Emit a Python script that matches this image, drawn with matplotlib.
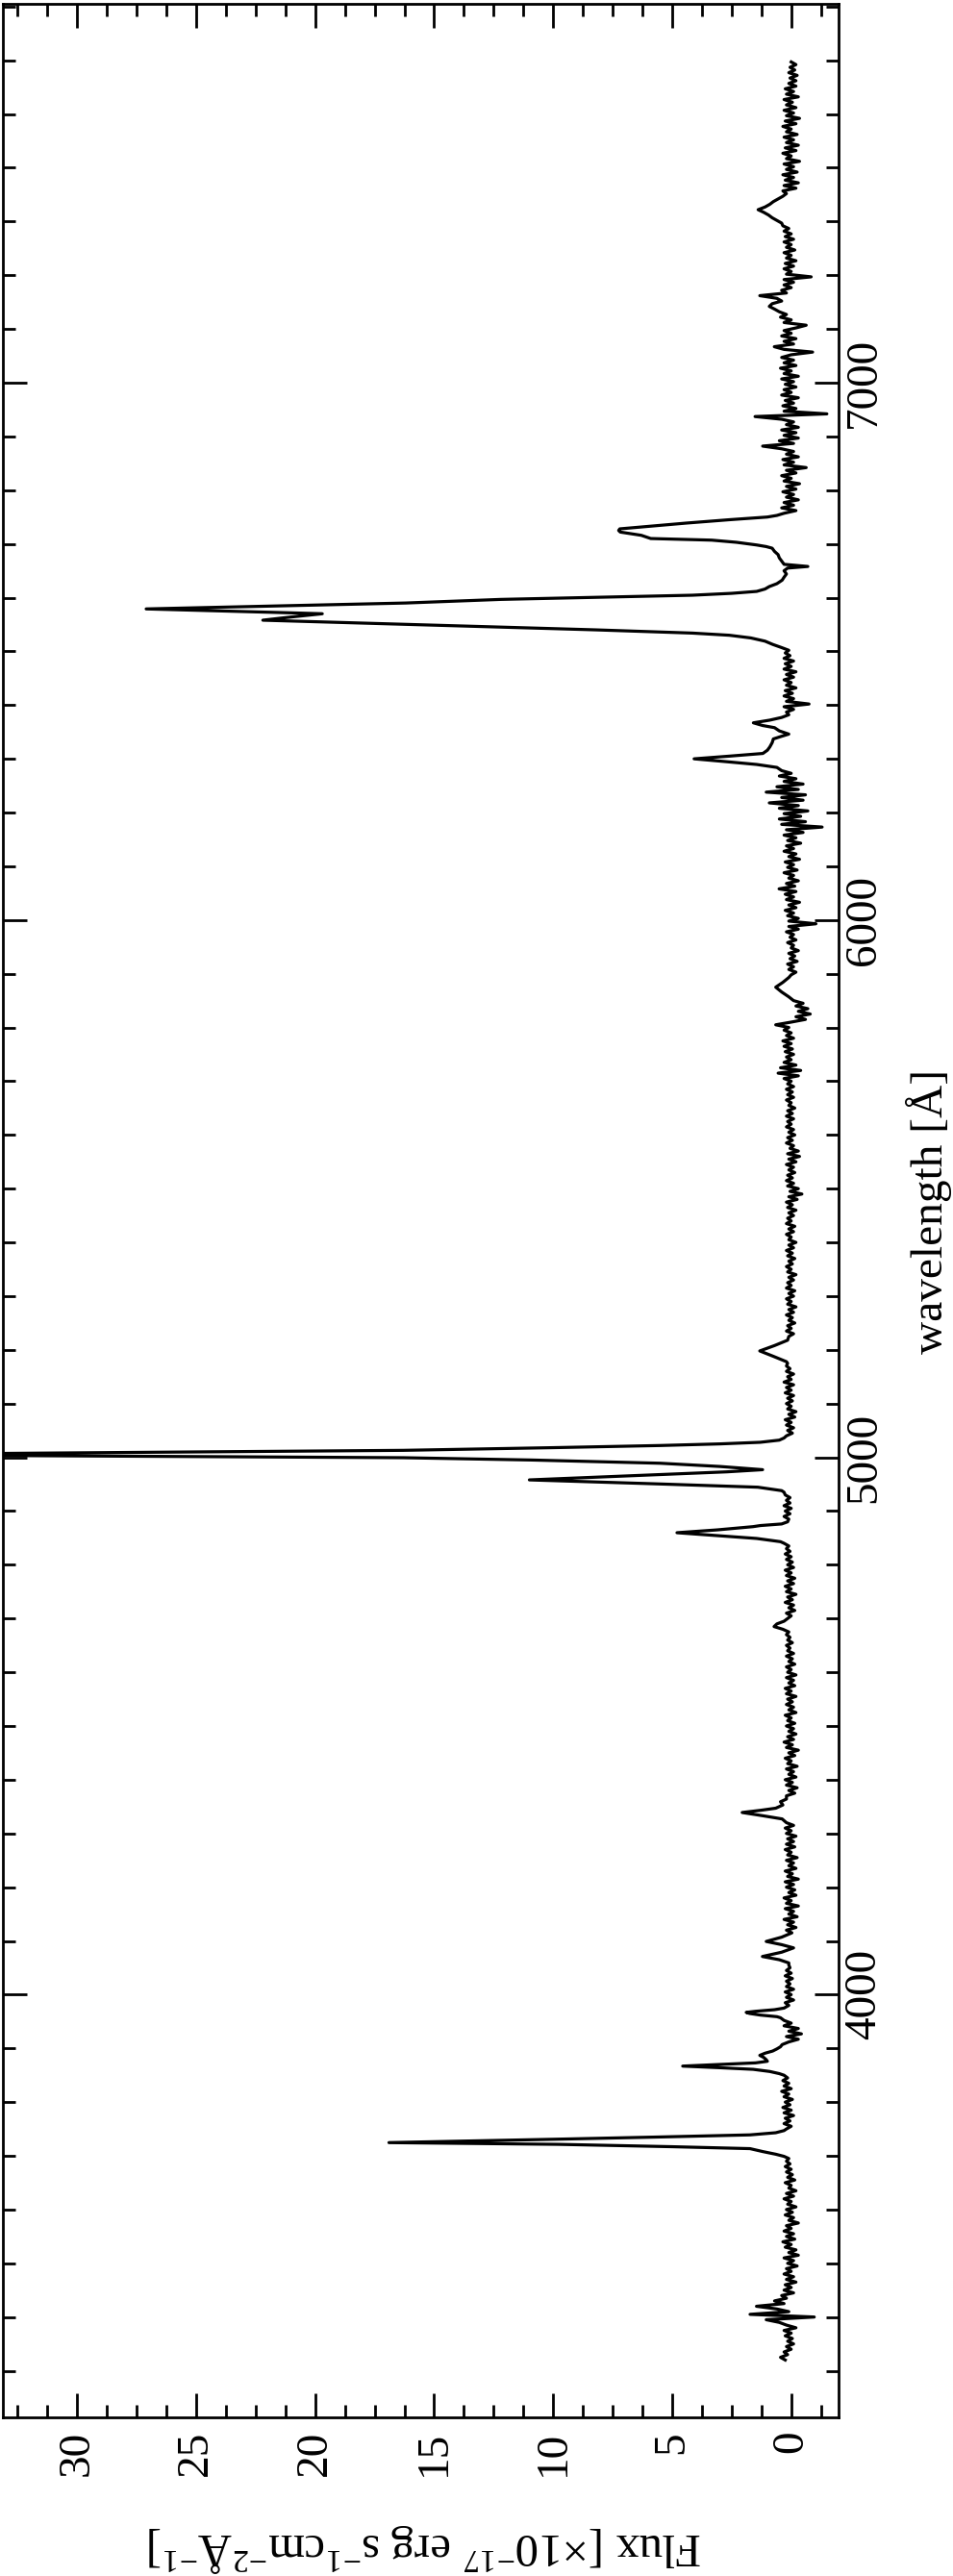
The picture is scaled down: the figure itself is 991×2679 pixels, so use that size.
import numpy as np
import matplotlib
matplotlib.use("Agg")
import matplotlib.pyplot as plt
from matplotlib.ticker import MultipleLocator

plt.rcParams['font.family'] = ['Liberation Serif', 'DejaVu Serif']
plt.rcParams['mathtext.fontset'] = 'custom'
plt.rcParams['mathtext.rm'] = 'Liberation Serif'
plt.rcParams['mathtext.it'] = 'Liberation Serif:italic'

# ---------------- data (wavelength in Angstrom, flux in 1e-17 cgs) ----------------
# noise/continuum segments: start wavelength, step, flux values
cont_a_start, cont_a_step = 3320, 5
cont_a = [0.25, 0.45, 0.15, 0.3, 0.0, 0.2, -0.1, 0.15, -0.05, 0.25, 0.0, 0.3, -0.2, 0.2, 0.5,
          1.05, -0.97, 1.73, 0.1, 0.6, 1.46, 0.3, 0.7, 0.2, 0.4, -0.1, 0.3, 0.0, 0.25, -0.2,
          0.2, -0.1, 0.3, 0.0, 0.2, -0.25, 0.15, -0.1, 0.3, -0.3, 0.1, -0.2, 0.25, 0.0, 0.35,
          -0.15, 0.2, -0.1, 0.3, 0.0, 0.2, -0.3, 0.1, -0.1, 0.25, -0.05, 0.2, -0.2, 0.15, 0.0,
          0.3, -0.1, 0.2, -0.2, 0.1, 0.0, 0.25, -0.15, 0.15, -0.05, 0.2, 0.0, 0.25, 0.05, 0.2, 0.1]

oii_wave = [3699, 3703, 3708, 3713.4, 3717, 3721.4, 3724.6, 3728, 3731, 3735, 3739, 3743, 3747]
oii_flux = [0.3, 0.65, 1.2, 1.73, 5.0, 9.8, 16.9, 13.1, 9.8, 5.6, 1.73, 0.65, 0.3]

cont_b_start, cont_b_step = 3750, 5
cont_b = [0.2, 0.0, 0.3, 0.05, 0.25, -0.1, 0.3, 0.0, 0.35, 0.05, 0.25, -0.05, 0.3, 0.1, 0.4,
          0.0, 0.3, 0.1, 0.35, 0.15, 0.3]

ne3_wave = [3853, 3857, 3861, 3864, 3867, 3870, 3873, 3876, 3879, 3883, 3887, 3891, 3895, 3899, 3903]
ne3_flux = [0.5, 0.9, 1.6, 3.0, 4.56, 3.0, 1.5, 1.0, 1.05, 1.15, 1.32, 1.1, 0.78, 0.6, 0.45]

cont_c_start, cont_c_step = 3907, 5
cont_c = [0.38, 0.1, -0.3, 0.2, -0.43, 0.1, -0.3, 0.3, 0.0, 0.3, 0.45]

heps_wave = [3959, 3962, 3965, 3967, 3969, 3972, 3975]
heps_flux = [0.6, 1.3, 1.75, 1.89, 1.5, 0.7, 0.3]

cont_d_start, cont_d_step = 3980, 5
cont_d = [0.1, 0.25, -0.1, 0.2, 0.0, 0.25, -0.1, 0.2, 0.05, 0.2, -0.05, 0.25, 0.0, 0.2, 0.05, 0.1]

hdel_wave = [4059, 4065, 4071, 4079, 4087, 4093, 4099, 4107, 4115]
hdel_flux = [0.1, 0.5, 1.21, 0.4, -0.1, 0.4, 1.05, 0.4, -0.03]

cont_e_start, cont_e_step = 4120, 5
cont_e = [0.2, -0.2, 0.15, -0.1, 0.3, -0.25, 0.1, -0.1, 0.25, -0.3, 0.2, 0.0, 0.3, -0.2, 0.1,
          -0.15, 0.2, -0.1, 0.25, -0.3, 0.15, -0.05, 0.25, -0.2, 0.1, -0.1, 0.2, -0.25, 0.15,
          0.0, 0.25, -0.15, 0.2, -0.1, 0.15, -0.2, 0.2, 0.0, 0.25, -0.1, 0.2]

hgam_wave = [4327, 4333, 4339, 4343, 4347, 4353, 4359, 4364]
hgam_flux = [0.38, 1.2, 2.06, 1.3, 0.65, 0.35, 0.45, 0.2]

cont_f_start, cont_f_step = 4370, 5
cont_f = [0.2, -0.15, 0.1, -0.25, 0.2, -0.05, 0.25, -0.2, 0.1, -0.1, 0.2, -0.25, 0.15, 0.0,
          0.25, -0.15, 0.1, -0.3, 0.2, -0.05, 0.3, -0.1, 0.15, -0.2, 0.1, -0.1, 0.2, -0.15,
          0.15, 0.0, 0.25, -0.2, 0.1, -0.1, 0.2, -0.05, 0.15, -0.2, 0.2, 0.0, 0.25, -0.15, 0.1,
          -0.1, 0.2, -0.2, 0.15, 0.0, 0.2, -0.15, 0.1, -0.05, 0.2, -0.1, 0.15, 0.05, 0.2, -0.05,
          0.15, 0.05, 0.2, 0.1]

heii_wave = [4680, 4685, 4690, 4695, 4700]
heii_flux = [0.35, 0.72, 0.6, 0.3, 0.15]

cont_g_start, cont_g_step = 4705, 5
cont_g = [0.0, 0.2, -0.15, 0.1, -0.1, 0.25, -0.05, 0.15, -0.2, 0.2, 0.0, 0.25, -0.1, 0.15,
          -0.15, 0.2, 0.0, 0.25, -0.1, 0.15, -0.05, 0.2, 0.0, 0.25, 0.05, 0.2, 0.1, 0.3]

oiii_hb_wave = [4843, 4849, 4854, 4859.7, 4865, 4871, 4873, 4876, 4880,
                4885, 4890, 4895, 4900, 4905, 4910, 4915, 4920, 4925, 4930, 4935,
                4938, 4944.4, 4950.4, 4958, 4968, 4973, 4977,
                4983, 4989, 4995, 4999.3, 5005, 5013, 5018, 5022, 5025, 5028, 5032, 5036]
oiii_hb_flux = [0.45, 1.45, 3.0, 4.8, 3.1, 1.6, 1.3, 0.4, 0.15,
                0.1, 0.3, 0.05, 0.25, 0.0, 0.3, 0.05, 0.2, 0.05, 0.25, 0.3,
                0.4, 1.4, 5.5, 11.0, 5.5, 2.7, 1.2,
                3.0, 5.5, 10.9, 16.3, 40.0, 16.3, 10.0, 5.5, 3.0, 1.3, 0.5, 0.3]

cont_i_start, cont_i_step = 5040, 5
cont_i = [0.2, -0.05, 0.15, -0.1, 0.2, 0.0, 0.25, -0.15, 0.1, -0.2, 0.15, 0.0, 0.2, -0.05,
          0.15, -0.1, 0.25, 0.0, 0.2, -0.1, 0.3, 0.0, 0.15, -0.1, 0.2, 0.05, 0.2, 0.15]

ni_wave = [5178, 5188, 5198, 5208, 5218]
ni_flux = [0.2, 0.75, 1.32, 0.7, 0.15]

cont_j_start, cont_j_step = 5225, 5
cont_j = [0.1, -0.1, 0.2, 0.0, 0.15, -0.15, 0.1, -0.05, 0.2, -0.1, 0.1, -0.2, 0.15, 0.0, 0.2,
          -0.1, 0.1, -0.15, 0.2, 0.0, 0.15, -0.1, 0.1, -0.2, 0.15, 0.0, 0.2, -0.05, 0.1, -0.15,
          0.15, -0.05, 0.2, -0.1, 0.1, -0.2, 0.1, 0.0, 0.2, -0.1, 0.1, -0.15, 0.2, 0.0, 0.15,
          -0.1, 0.1, -0.2, 0.15, -0.05, 0.2, -0.25, 0.1, -0.45, 0.05, -0.3, 0.15, -0.1, 0.2,
          -0.05, 0.15, -0.15, 0.1, -0.1, 0.2, -0.2, 0.1, -0.35, 0.15, -0.3, 0.05, -0.1, 0.2,
          -0.05, 0.15, -0.15, 0.1, -0.1, 0.2, 0.0, 0.15, -0.1, 0.2, -0.05, 0.15, -0.15, 0.1,
          0.0, 0.2, -0.1, 0.15, -0.05, 0.2, -0.1, 0.15, 0.0, 0.3, -0.3, 0.55, -0.4, 0.45, -0.2,
          0.3, 0.0, 0.2, -0.1, 0.25, -0.05, 0.3, 0.0, 0.35, -0.1, 0.2, 0.0, 0.3, 0.1, 0.65, 0.0,
          -0.6, -0.2, -0.8, -0.3, -0.7, -0.2, -0.5, -0.1]

hei_wave = [5857, 5866, 5875, 5884, 5893]
hei_flux = [0.1, 0.4, 0.65, 0.35, 0.1]

cont_k_start, cont_k_step = 5898, 5
cont_k = [0.0, -0.2, 0.1, -0.1, 0.15, -0.25, 0.05, -0.15, 0.1, -0.3, 0.0, -0.1, 0.15, -0.2,
          0.05, -0.1, 0.2, -0.3, 0.1, -1.04, 0.1, -0.3, 0.15, -0.1, 0.25, -0.2, 0.1, -0.35, 0.2,
          -0.1, 0.25, -0.2, 0.51, -0.15, 0.2, -0.3, 0.1, -0.1, 0.3, -0.25, 0.15, -0.1, 0.25,
          -0.35, 0.1, -0.2, 0.3, -0.1, 0.2, -0.4, 0.15, -0.2, 0.3, -0.5, 0.2, -1.3, 0.4, -0.6,
          0.5, -0.4, 0.3, -0.7, 0.5, -0.3, 0.92, -0.5, 0.4, -0.6, 1.05, -0.3, 0.6, -0.5, 0.3,
          -0.2, 0.5, 0.0, 0.4]

oi_wave = [6284, 6289.5, 6295, 6300, 6305, 6310, 6316, 6322, 6330, 6337, 6342, 6346, 6352,
           6358, 6362, 6367, 6372, 6377, 6382]
oi_flux = [0.6, 1.45, 2.8, 4.08, 2.6, 1.19, 1.0, 0.9, 0.8, 0.75, 0.4, 0.1, 0.5, 0.7, 1.2,
           1.59, 0.9, 0.4, 0.1]

cont_m_start, cont_m_step = 6387, 5
cont_m = [0.2, -0.1, 0.3, -0.75, 0.2, -0.1, 0.3, -0.05, 0.25, -0.2, 0.2, 0.0, 0.3, -0.1,
          0.2, -0.2, 0.3, 0.0, 0.25, -0.1, 0.3, 0.05, 0.25, 0.1]

ha_wave = [6507, 6513, 6519, 6525, 6530, 6534, 6540, 6546, 6552, 6558, 6564, 6570, 6571.8,
           6579, 6584, 6590, 6596.7, 6600.5, 6604.5, 6608, 6611.6, 6616, 6620.6, 6626, 6632.5,
           6638, 6644, 6650, 6655, 6658, 6662, 6668, 6674, 6680, 6686, 6692,
           6695, 6698, 6703, 6707, 6710, 6716, 6722, 6725, 6728, 6735, 6738.7, 6745, 6750, 6753]
ha_flux = [0.4, 0.78, 1.1, 1.7, 2.6, 4.15, 8.2, 12.9, 17.5, 22.2, 21.0, 19.7, 21.1,
           27.1, 22.1, 16.2, 12.2, 8.2, 4.15, 2.5, 1.45, 1.1, 0.92, 0.6, 0.38,
           0.3, 0.2, 0.3, 0.15, -0.7, 0.3, 0.4, 0.5, 0.55, 0.7, 0.8,
           1.05, 1.45, 2.3, 3.34, 5.9, 6.3, 7.18, 7.25, 7.2, 5.36, 4.42, 2.6, 1.0, 0.6]

cont_n_start, cont_n_step = 6757, 5
cont_n = [0.3, -0.2, 0.4, -0.1, 0.3, -0.3, 0.2, -0.1, 0.35, -0.2, 0.2, -0.35, 0.3, 0.0, 0.4,
          -0.2, 0.2, -0.63, 0.3, -0.1, 0.35, -0.3, 0.2, -0.1, 0.4, 1.2, -0.1, 0.5, -0.3, 0.3,
          -0.2, 0.4, -0.3, 0.2, -0.1, 0.4, 1.52, -1.5, 0.3]

cont_o_start, cont_o_step = 6952, 5
cont_o = [-0.2, 0.35, -0.1, 0.25, -0.3, 0.4, 0.0, 0.3, -0.2, 0.25, -0.1, 0.4, -0.3, 0.3, 0.0,
          0.45, -0.2, 0.3, -0.1, 0.4, 0.0, -0.9, 0.3, 0.71, -0.1, 0.3, -0.2, 0.4, 0.0, 0.3,
          -0.2, -0.63, 0.3, 0.0, 0.45, 0.2, 0.5, 0.7, 0.92, 0.8, 0.4, 0.6, 1.32, 0.2, 0.4, 0.0,
          0.3, -0.1, 0.3, -0.84, 0.2, 0.0, 0.3, -0.1, 0.25, -0.2, 0.2, 0.0, 0.3, -0.15, 0.2,
          0.0, 0.3, -0.1, 0.25, 0.0, 0.3, 0.1, 0.35, 0.4, 0.6, 0.8, 0.95, 1.15, 1.39, 1.1, 0.9,
          0.75, 0.55, 0.35, 0.2, 0.35, -0.2, 0.3, -0.3, 0.25, -0.1, 0.35, -0.25, 0.2, -0.1, 0.3,
          -0.35, 0.2, 0.0, 0.35, -0.2, 0.25, -0.3, 0.2, -0.1, 0.3, -0.25, 0.2, 0.0, 0.35, -0.2,
          0.25, -0.35, 0.2, -0.1, 0.3, -0.2, 0.2, -0.05, 0.3, -0.3, 0.2, -0.1, 0.25, -0.2, 0.1,
          -0.2, 0.05, -0.25, 0.1, -0.15, 0.05, -0.2, 0.0]

flux_ticks = [0, 5, 10, 15, 20, 25, 30]
wave_ticks = [4000, 5000, 6000, 7000]
xlabel_text = "wavelength [Å]"
ylabel_text = r"Flux [$\times$10$^{-17}$ erg s$^{-1}$cm$^{-2}$Å$^{-1}$]"

# ---------------- assemble spectrum ----------------
def grid(start, step, vals):
    return [start + i * step for i in range(len(vals))], list(vals)

pieces = [
    grid(cont_a_start, cont_a_step, cont_a), (oii_wave, oii_flux),
    grid(cont_b_start, cont_b_step, cont_b), (ne3_wave, ne3_flux),
    grid(cont_c_start, cont_c_step, cont_c), (heps_wave, heps_flux),
    grid(cont_d_start, cont_d_step, cont_d), (hdel_wave, hdel_flux),
    grid(cont_e_start, cont_e_step, cont_e), (hgam_wave, hgam_flux),
    grid(cont_f_start, cont_f_step, cont_f), (heii_wave, heii_flux),
    grid(cont_g_start, cont_g_step, cont_g), (oiii_hb_wave, oiii_hb_flux),
    grid(cont_i_start, cont_i_step, cont_i), (ni_wave, ni_flux),
    grid(cont_j_start, cont_j_step, cont_j), (hei_wave, hei_flux),
    grid(cont_k_start, cont_k_step, cont_k), (oi_wave, oi_flux),
    grid(cont_m_start, cont_m_step, cont_m), (ha_wave, ha_flux),
    grid(cont_n_start, cont_n_step, cont_n), grid(cont_o_start, cont_o_step, cont_o),
]
wave = np.concatenate([np.asarray(w, float) for w, f in pieces])
flux = np.concatenate([np.asarray(f, float) for w, f in pieces])
order = np.argsort(wave, kind="stable")
wave, flux = wave[order], flux[order]

# ---------------- figure ----------------
W, H = 991, 2679
fig = plt.figure(figsize=(W / 100, H / 100), dpi=100)
ax = fig.add_axes([3 / W, 1 - 2514 / H, (872 - 3) / W, (2514 - 4) / H])

ax.plot(flux, wave, color="black", lw=2.3, solid_joinstyle="round")

ax.set_xlim(33.12, -1.99)
ax.set_ylim(3213.3, 7705.1)

ax.set_xticks(flux_ticks)
ax.xaxis.set_minor_locator(MultipleLocator(1.25))
ax.set_yticks(wave_ticks)
ax.yaxis.set_minor_locator(MultipleLocator(100))

for s in ax.spines.values():
    s.set_linewidth(2.0)

ax.tick_params(which="both", direction="in", top=True, bottom=True, left=True, right=True,
               width=2.0, labelsize=34)
ax.tick_params(which="major", length=18)
ax.tick_params(which="minor", length=9.5)
ax.tick_params(axis="x", labelrotation=90, pad=10)
ax.tick_params(axis="y", labelleft=False, labelright=True, labelrotation=90, pad=4)
for lab in ax.get_yticklabels():
    lab.set_verticalalignment("center")

fig.text(966 / W, 1 - 1260 / H, xlabel_text, rotation=90, ha="center", va="center", fontsize=34)
fig.text(442 / W, 1 - 2650 / H, ylabel_text, rotation=180, ha="center", va="center", fontsize=35)

fig.savefig("out.png", dpi=100)
